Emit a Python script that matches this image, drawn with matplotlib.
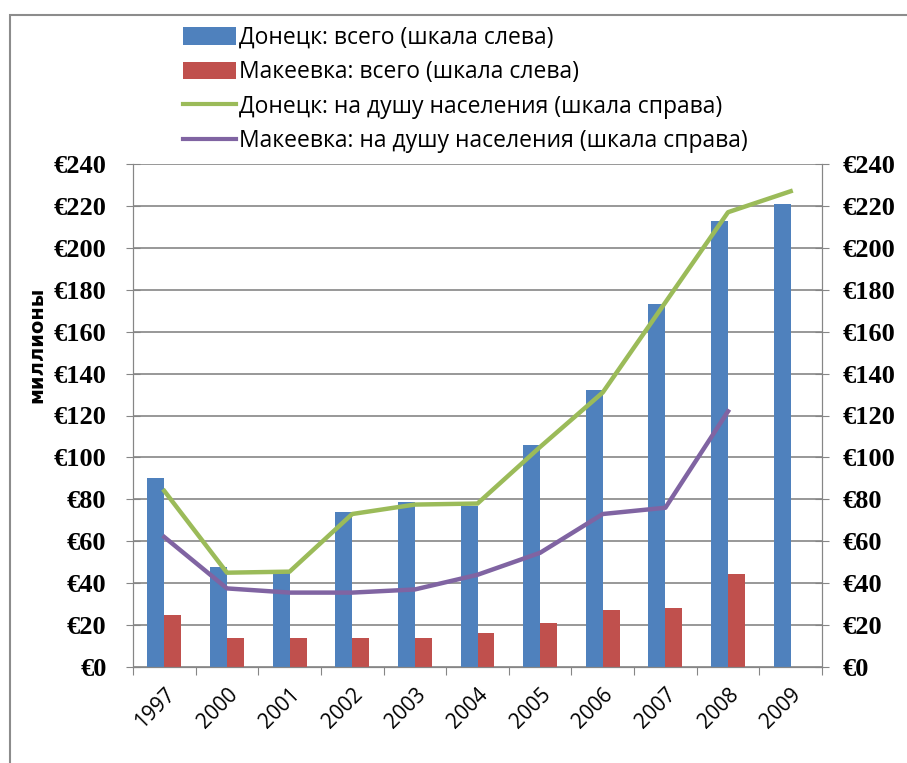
import matplotlib
matplotlib.use("Agg")
import matplotlib.pyplot as plt
import numpy as np
from matplotlib.patches import Patch, Rectangle
from matplotlib.lines import Line2D

years = ["1997", "2000", "2001", "2002", "2003", "2004", "2005", "2006", "2007", "2008", "2009"]
donetsk_total = [90, 47.5, 45, 74, 78.5, 77, 106, 132, 173, 213, 221]
makeevka_total = [25, 14, 14, 14, 14, 16, 21, 27, 28, 44.5, np.nan]
donetsk_per_capita = [84, 45, 45.5, 73, 77.5, 78, 105, 131, 174, 217, 227]
makeevka_per_capita = [62, 37.5, 35.5, 35.5, 37, 44, 54.5, 73, 76, 122, np.nan]

labels = ["Донецк: всего (шкала слева)",
          "Макеевка: всего (шкала слева)",
          "Донецк: на душу населения (шкала справа)",
          "Макеевка: на душу населения (шкала справа)"]
yticks = list(range(0, 241, 20))
ylabel = "миллионы"

BLUE = "#4F81BD"
RED = "#C0504D"
GREEN = "#9BBB59"
PURPLE = "#8064A2"
GRID = "#868686"

fig = plt.figure(figsize=(9.07, 7.63), dpi=100)
W, H = 907, 763
ax = fig.add_axes([133 / W, 1 - 667 / H, (822 - 133) / W, (667 - 164) / H])
ax2 = ax.twinx()

x = np.arange(len(years))
bw = 0.27
ax.bar(x - bw / 2, donetsk_total, bw, color=BLUE, zorder=2)
ax.bar(x + bw / 2, makeevka_total, bw, color=RED, zorder=2)
ax2.plot(x, donetsk_per_capita, color=GREEN, lw=3.2, zorder=3)
ax2.plot(x, makeevka_per_capita, color=PURPLE, lw=3.2, zorder=3)

for a in (ax, ax2):
    a.set_ylim(0, 240)
    a.set_yticks(yticks)
    a.set_yticklabels(["€%d" % v for v in yticks])
    a.set_xlim(-0.5, len(years) - 0.5)
    for s in a.spines.values():
        s.set_color(GRID)
    a.spines["top"].set_visible(False)

ax.yaxis.grid(True, color=GRID, lw=1.2, zorder=0)
ax.set_axisbelow(True)
ax.tick_params(axis="y", direction="inout", length=10, color=GRID, pad=14)
ax2.tick_params(axis="y", direction="inout", length=10, color=GRID, pad=10)

ax.set_xticks(np.arange(-0.5, len(years), 1.0), minor=False)
ax.set_xticklabels([])
ax.set_xticks(x, minor=True)
ax.set_xticklabels(years, minor=True, rotation=45, ha="right", va="top",
                   rotation_mode="anchor")
ax.tick_params(axis="x", which="major", direction="out", length=6, color=GRID)
ax.tick_params(axis="x", which="minor", length=0, pad=12)
ax2.tick_params(axis="x", which="both", length=0)

for a in (ax, ax2):
    for t in a.get_yticklabels():
        t.set_fontfamily(["Liberation Serif", "DejaVu Serif"])
        t.set_fontsize(19)
        t.set_fontweight("semibold")
for t in ax.get_xticklabels(minor=True):
    t.set_fontfamily(["Open Sans", "DejaVu Sans"])
    t.set_fontsize(15)

fig.text(37 / W, 1 - 345 / H, ylabel, rotation=90, ha="center", va="center",
         fontsize=14, fontweight="bold", fontfamily="DejaVu Sans")

handles = [Patch(facecolor=BLUE, edgecolor="none"),
           Patch(facecolor=RED, edgecolor="none"),
           Line2D([], [], color=GREEN, lw=3),
           Line2D([], [], color=PURPLE, lw=3)]
fig.legend(handles, labels, loc="upper left", bbox_to_anchor=(183 / W, 1 - 26 / H),
           frameon=False, borderpad=0, borderaxespad=0, handlelength=2.3, handleheight=0.8,
           handletextpad=0.15, labelspacing=0.45,
           prop={"family": ["Liberation Sans Narrow", "Open Sans", "DejaVu Sans"], "size": 16.5})

fig.add_artist(Rectangle((10 / W, -0.05), 1.1, 1 - 15 / H + 0.05, transform=fig.transFigure,
                         fill=False, edgecolor="#8c8c8c", lw=1.5, clip_on=False))

fig.savefig("out.png", dpi=100)
